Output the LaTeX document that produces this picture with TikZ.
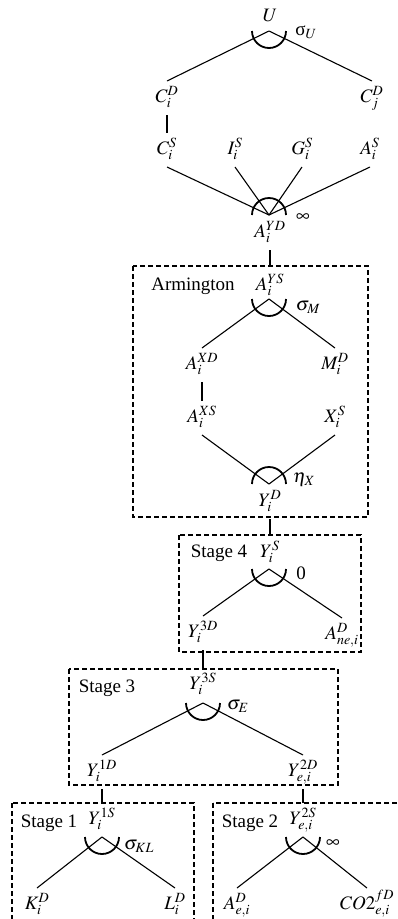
\documentclass[tikz,border=0pt]{standalone}
\usepackage{mathptmx}
\usepackage[no-math]{fontspec}
\setmainfont{Liberation Serif}
\begin{document}
\begin{tikzpicture}[x=1pt,y=-1pt,
  lbl/.style={inner sep=0pt, text height=13pt, text depth=5pt, outer xsep=0pt, outer ysep=8pt, font=\fontsize{19}{22}\selectfont},
  txt/.style={inner sep=0pt, font=\fontsize{19}{22}\selectfont},
  edge/.style={line width=1.1pt},
  nest/.style={line width=1.8pt},
  box/.style={draw, line width=1.8pt, dash pattern=on 5pt off 3pt},
]
\useasboundingbox (0,0) rectangle (398,919);
\clip (0,0) rectangle (398,919);

% ---------- top nest ----------
\node[lbl] (U) at (270,17) {$U$};
\coordinate (apU) at (269,31);
\node[txt] (sU) at (306,32) {σ$_U$};
\node[lbl] (CiD) at (167,98) {$C_i^D$};
\node[lbl] (CjD) at (372,98) {$C_j^D$};
\draw[edge] (apU) -- (CiD.north);
\draw[edge] (apU) -- (CjD.north);
\draw[nest] (apU) ++(17,0) arc[start angle=0, end angle=180, radius=17];

\node[lbl] (CiS) at (167,150) {$C_i^S$};
\node[lbl] (IiS) at (235,150) {$I_i^S$};
\node[lbl] (GiS) at (302,150) {$G_i^S$};
\node[lbl] (AiS) at (370,150) {$A_i^S$};
\draw[edge] (CiD.south) -- (CiS.north);

\coordinate (apYD) at (269,215);
\foreach \n in {CiS,IiS,GiS,AiS} \draw[edge] (\n.south) -- (apYD);
\draw[nest] (apYD) ++(-17,0) arc[start angle=180, end angle=360, radius=17];
\node[txt] (inf1) at (303,218) {$\infty$};
\node[lbl] (AYD) at (270,233) {$A_i^{YD}$};

% ---------- Armington ----------
\coordinate (armNW) at (133,266);
\coordinate (armSE) at (368,517);
\draw[box] (armNW) rectangle (armSE);
\draw[edge] (AYD.south) -- (AYD.south |- armNW);
\node[txt] (arm) at (193,286) {Armington};
\node[lbl] (AYS) at (270,286) {$A_i^{YS}$};
\coordinate (apYS) at (269,299);
\node[txt] (sM) at (308,307) {$\sigma_M$};
\node[lbl] (AXD) at (202,365) {$A_i^{XD}$};
\node[lbl] (MD) at (335,365) {$M_i^D$};
\draw[edge] (apYS) -- (AXD.north);
\draw[edge] (apYS) -- (MD.north);
\draw[nest] (apYS) ++(17,0) arc[start angle=0, end angle=180, radius=17];

\node[lbl] (AXS) at (202,418) {$A_i^{XS}$};
\node[lbl] (XS) at (335,418) {$X_i^S$};
\draw[edge] (AXD.south) -- (AXS.north);
\coordinate (apY) at (269,484);
\draw[edge] (AXS.south) -- (apY);
\draw[edge] (XS.south) -- (apY);
\draw[nest] (apY) ++(-17,0) arc[start angle=180, end angle=360, radius=17];
\node[txt] (eX) at (304,480) {$\eta_X$};
\node[lbl] (YD) at (270,502) {$Y_i^D$};

% ---------- Stage 4 ----------
\coordinate (s4NW) at (179,535);
\coordinate (s4SE) at (361,652);
\draw[box] (s4NW) rectangle (s4SE);
\draw[edge] (YD.south) -- (YD.south |- s4NW);
\node[txt] (st4) at (219,553) {Stage 4};
\node[lbl] (YS) at (270,553) {$Y_i^S$};
\coordinate (apYS4) at (269,569);
\node[txt] (zero) at (301,573) {0};
\node[lbl] (Y3D) at (203,633) {$Y_i^{3D}$};
\node[lbl] (AneD) at (342,635) {$A_{ne,i}^D$};
\draw[edge] (apYS4) -- (Y3D.north);
\draw[edge] (apYS4) -- (AneD.north);
\draw[nest] (apYS4) ++(17,0) arc[start angle=0, end angle=180, radius=17];

% ---------- Stage 3 ----------
\coordinate (s3NW) at (69,669);
\coordinate (s3SE) at (338,785);
\draw[box] (s3NW) rectangle (s3SE);
\draw[edge] (Y3D.south) -- (Y3D.south |- s3NW);
\node[txt] (st3) at (107,688) {Stage 3};
\node[lbl] (Y3S) at (203,685) {$Y_i^{3S}$};
\coordinate (apY3) at (203,703);
\node[txt] (sE) at (238,706) {$\sigma_E$};
\node[lbl] (Y1D) at (102,772) {$Y_i^{1D}$};
\node[lbl] (Y2D) at (303,772) {$Y_{e,i}^{2D}$};
\draw[edge] (apY3) -- (Y1D.north);
\draw[edge] (apY3) -- (Y2D.north);
\draw[nest] (apY3) ++(17,0) arc[start angle=0, end angle=180, radius=17];

% ---------- Stage 1 ----------
\coordinate (s1NW) at (12,803);
\coordinate (s1SE) at (194,960);
\draw[box] (s1NW) rectangle (s1SE);
\draw[edge] (Y1D.south) -- (Y1D.south |- s1NW);
\node[txt] (st1) at (49,823) {Stage 1};
\node[lbl] (Y1S) at (102,820) {$Y_i^{1S}$};
\coordinate (apY1) at (102,837);
\node[txt] (sKL) at (139,846) {$\sigma_{KL}$};
\node[lbl] (KD) at (37,905) {$K_i^D$};
\node[lbl] (LD) at (175,905) {$L_i^D$};
\draw[edge] (apY1) -- (KD.north);
\draw[edge] (apY1) -- (LD.north);
\draw[nest] (apY1) ++(17,0) arc[start angle=0, end angle=180, radius=17];

% ---------- Stage 2 ----------
\coordinate (s2NW) at (213,803);
\coordinate (s2SE) at (420,960);
\draw[box] (s2NW) rectangle (s2SE);
\draw[edge] (Y2D.south) -- (Y2D.south |- s2NW);
\node[txt] (st2) at (250,823) {Stage 2};
\node[lbl] (Y2S) at (303,820) {$Y_{e,i}^{2S}$};
\coordinate (apY2) at (303,837);
\node[txt] (inf2) at (333,844) {$\infty$};
\node[lbl] (AeD) at (237,905) {$A_{e,i}^D$};
\node[lbl] (CO2) at (367,905) {$CO2_{e,i}^{fD}$};
\draw[edge] (apY2) -- (AeD.north);
\draw[edge] (apY2) -- (CO2.north);
\draw[nest] (apY2) ++(17,0) arc[start angle=0, end angle=180, radius=17];
\end{tikzpicture}
\end{document}
